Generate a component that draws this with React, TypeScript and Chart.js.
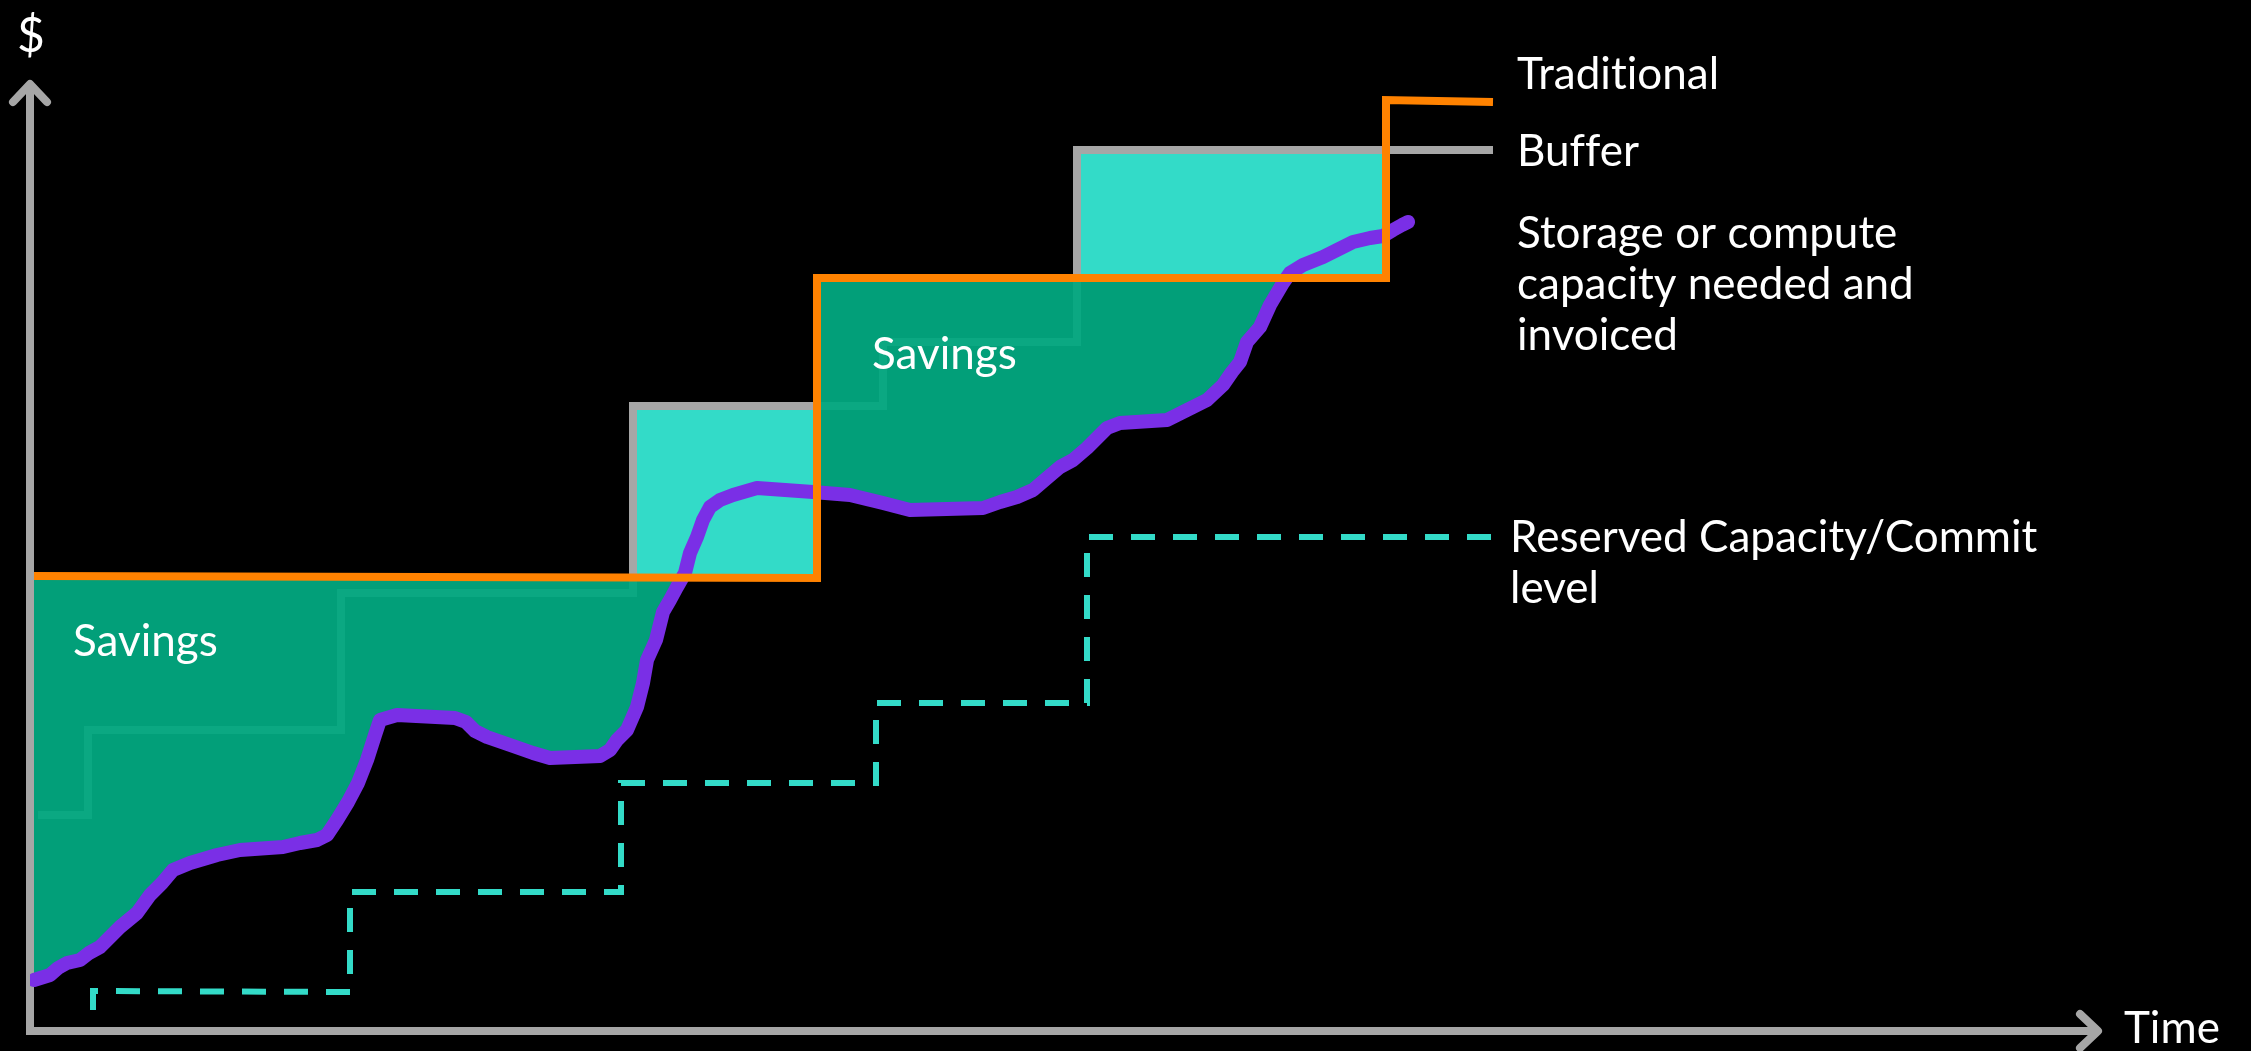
import React, { useEffect, useRef } from "react";
import { Chart, registerables } from "chart.js";

Chart.register(...registerables);

// ---- Data (time units along x, $ units along y) ----
const timeTraditional = [0.2, 39.35, 39.35, 67.8, 67.8, 73.15];
const costTraditional = [45.5, 45.3, 75.3, 75.3, 93.1, 92.9];

const timeBuffer = [0.4, 2.9, 2.9, 15.55, 15.55, 30.15, 30.15, 42.65, 42.65, 52.35, 52.35, 73.15];
const costBuffer = [21.6, 21.6, 30.1, 30.1, 43.8, 43.8, 62.5, 62.5, 68.9, 68.9, 88.1, 88.1];

const timeReserved = [3.15, 3.15, 16.0, 16.0, 29.55, 29.55, 42.3, 42.3, 52.85, 52.85, 73.05];
const costReserved = [2.1, 4.0, 3.9, 13.9, 13.9, 24.8, 24.8, 32.8, 32.8, 49.4, 49.4];

const timeNeeded = [
  0.2, 1.0, 1.4, 1.85, 2.5, 2.95, 3.5, 3.85, 4.5, 5.35, 6.0, 6.6, 7.15, 8.0, 9.35, 10.5,
  12.65, 13.5, 14.35, 14.85, 15.35, 15.9, 16.4, 16.85, 17.25, 17.5, 18.35, 21.25, 21.8,
  22.25, 22.85, 24.15, 25.15, 26.0, 28.5, 29.0, 29.35, 29.85, 30.35, 30.65, 30.85, 31.3,
  31.65, 32.0, 32.35, 32.75, 33.0, 33.35, 33.65, 34.0, 34.5, 35.15, 36.35, 39.15, 41.0,
  42.65, 44.0, 47.65, 48.5, 49.35, 50.15, 50.85, 51.5, 52.15, 52.85, 53.85, 54.5, 56.85,
  57.85, 58.85, 59.65, 60.1, 60.5, 60.85, 61.5, 62.0, 62.65, 63.0, 63.65, 64.65, 65.35,
  66.15, 67.0, 67.65, 68.15, 68.6, 68.9,
];
const costNeeded = [
  5.1, 5.6, 6.3, 6.8, 7.1, 7.8, 8.4, 9.1, 10.4, 11.8, 13.6, 14.8, 16.1, 16.8, 17.6, 18.1,
  18.4, 18.8, 19.1, 19.6, 21.1, 22.9, 24.8, 27.1, 29.6, 31.1, 31.6, 31.3, 30.9,
  30.0, 29.4, 28.5, 27.8, 27.3, 27.5, 28.1, 29.1, 30.1, 32.4, 34.8, 37.1, 39.1,
  41.9, 43.1, 44.4, 45.8, 47.8, 49.4, 51.1, 52.4, 53.1, 53.6, 54.3, 53.9, 53.6,
  52.8, 52.1, 52.3, 52.9, 53.4, 54.1, 55.3, 56.4, 57.1, 58.3, 60.3, 60.8, 61.1,
  62.1, 63.1, 64.6, 65.9, 66.9, 68.9, 70.4, 72.6, 74.8, 75.8, 76.6, 77.4, 78.1,
  78.9, 79.3, 79.5, 80.1, 80.6, 80.9,
];

// Text labels
const labelTexts = [
  "Traditional",
  "Buffer",
  "Storage or compute",
  "capacity needed and",
  "invoiced",
  "Reserved Capacity/Commit",
  "level",
  "Savings",
  "Savings",
];
const labelTime = [74.35, 74.35, 74.35, 74.35, 74.35, 74.0, 74.0, 2.15, 42.1];
const labelCost = [94.2, 86.5, 78.3, 73.2, 68.1, 47.9, 42.8, 37.5, 66.2];

const axisTitleY = "$";
const axisTitleYTime = 0.05;
const axisTitleYCost = 97.9;
const axisTitleX = "Time";
const axisTitleXTime = 104.7;
const axisTitleXCost = -1.2;

const X_MAX = 103.4;
const Y_MAX = 94.7;

const GREY = "#A6A6A6";
const ORANGE = "#FF8200";
const PURPLE = "#7A2FE6";
const CYAN = "#33DBC8";
const GREEN = "rgba(2,168,128,0.95)";
const FONT = "44px Lato";

function toPoints(xs: number[], ys: number[]) {
  return xs.map((x, i) => ({ x, y: ys[i] }));
}

export default function App() {
  const ref = useRef<HTMLCanvasElement>(null);

  useEffect(() => {
    const canvas = ref.current;
    if (!canvas) return;

    const traditional = toPoints(timeTraditional, costTraditional);
    const savingsCeiling = traditional.slice(0, 4);

    const decorPlugin = {
      id: "decor",
      beforeDatasetsDraw(chart: any) {
        const { ctx, scales } = chart;
        const x = scales.x;
        const y = scales.y;
        const x0 = x.getPixelForValue(0);
        const y0 = y.getPixelForValue(0);
        const xEnd = x.getPixelForValue(X_MAX);
        const yEnd = y.getPixelForValue(Y_MAX);
        ctx.save();
        ctx.strokeStyle = GREY;
        ctx.lineWidth = 8;
        ctx.lineJoin = "miter";
        ctx.lineCap = "butt";
        ctx.beginPath();
        ctx.moveTo(x0, yEnd + 2);
        ctx.lineTo(x0, y0);
        ctx.lineTo(xEnd - 2, y0);
        ctx.stroke();
        ctx.lineCap = "round";
        ctx.lineJoin = "round";
        ctx.beginPath();
        ctx.moveTo(x0 - 17, yEnd + 18);
        ctx.lineTo(x0, yEnd);
        ctx.lineTo(x0 + 17, yEnd + 18);
        ctx.moveTo(xEnd - 18, y0 - 17);
        ctx.lineTo(xEnd, y0);
        ctx.lineTo(xEnd - 18, y0 + 17);
        ctx.stroke();
        ctx.restore();
      },
      afterDatasetsDraw(chart: any) {
        const { ctx, scales } = chart;
        const x = scales.x;
        const y = scales.y;
        ctx.save();
        ctx.fillStyle = "#FFFFFF";
        ctx.font = FONT;
        try {
          (ctx as any).letterSpacing = "0.01px";
        } catch (e) {
          /* ignore */
        }
        ctx.textBaseline = "alphabetic";
        ctx.textAlign = "left";
        labelTexts.forEach((t, i) => {
          ctx.fillText(t, x.getPixelForValue(labelTime[i]), y.getPixelForValue(labelCost[i]));
        });
        ctx.fillText(axisTitleX, x.getPixelForValue(axisTitleXTime), y.getPixelForValue(axisTitleXCost));
        ctx.textAlign = "center";
        ctx.font = "48px Lato";
        ctx.fillText(axisTitleY, x.getPixelForValue(axisTitleYTime), y.getPixelForValue(axisTitleYCost));
        ctx.restore();
      },
    };

    const chart = new Chart(canvas, {
      type: "line",
      data: {
        datasets: [
          {
            label: "Reserved Capacity/Commit level",
            data: toPoints(timeReserved, costReserved),
            borderColor: CYAN,
            borderWidth: 6,
            borderDash: [24, 18],
            fill: false,
            order: 0,
          },
          {
            label: "Traditional",
            data: traditional,
            borderColor: ORANGE,
            borderWidth: 8,
            borderJoinStyle: "miter",
            fill: false,
            order: 1,
          },
          {
            label: "Storage or compute capacity needed and invoiced",
            data: toPoints(timeNeeded, costNeeded),
            borderColor: PURPLE,
            borderWidth: 14,
            borderJoinStyle: "round",
            borderCapStyle: "round",
            fill: false,
            order: 2,
          },
          {
            label: "Savings",
            data: savingsCeiling,
            borderColor: "rgba(0,0,0,0)",
            borderWidth: 1,
            fill: { target: 2, above: GREEN, below: "rgba(0,0,0,0)" },
            order: 3,
          },
          {
            label: "Buffer",
            data: toPoints(timeBuffer, costBuffer),
            borderColor: GREY,
            borderWidth: 8,
            borderJoinStyle: "miter",
            fill: { target: 1, above: CYAN, below: "rgba(0,0,0,0)" },
            order: 4,
          },
        ],
      } as any,
      options: {
        responsive: false,
        animation: false,
        devicePixelRatio: 1,
        events: [],
        layout: { padding: { left: 30, right: 153, top: 84, bottom: 20 } },
        scales: {
          x: { type: "linear", min: 0, max: X_MAX, display: false },
          y: { type: "linear", min: 0, max: Y_MAX, display: false },
        },
        elements: {
          point: { radius: 0, hoverRadius: 0 },
          line: { tension: 0 },
        },
        plugins: {
          legend: { display: false },
          tooltip: { enabled: false },
        },
      } as any,
      plugins: [decorPlugin],
    });

    return () => chart.destroy();
  }, []);

  return (
    <div
      style={{
        position: "fixed",
        left: 0,
        top: 0,
        width: 2251,
        height: 1051,
        background: "#000000",
      }}
    >
      <canvas ref={ref} width={2251} height={1051} style={{ display: "block" }} />
    </div>
  );
}
